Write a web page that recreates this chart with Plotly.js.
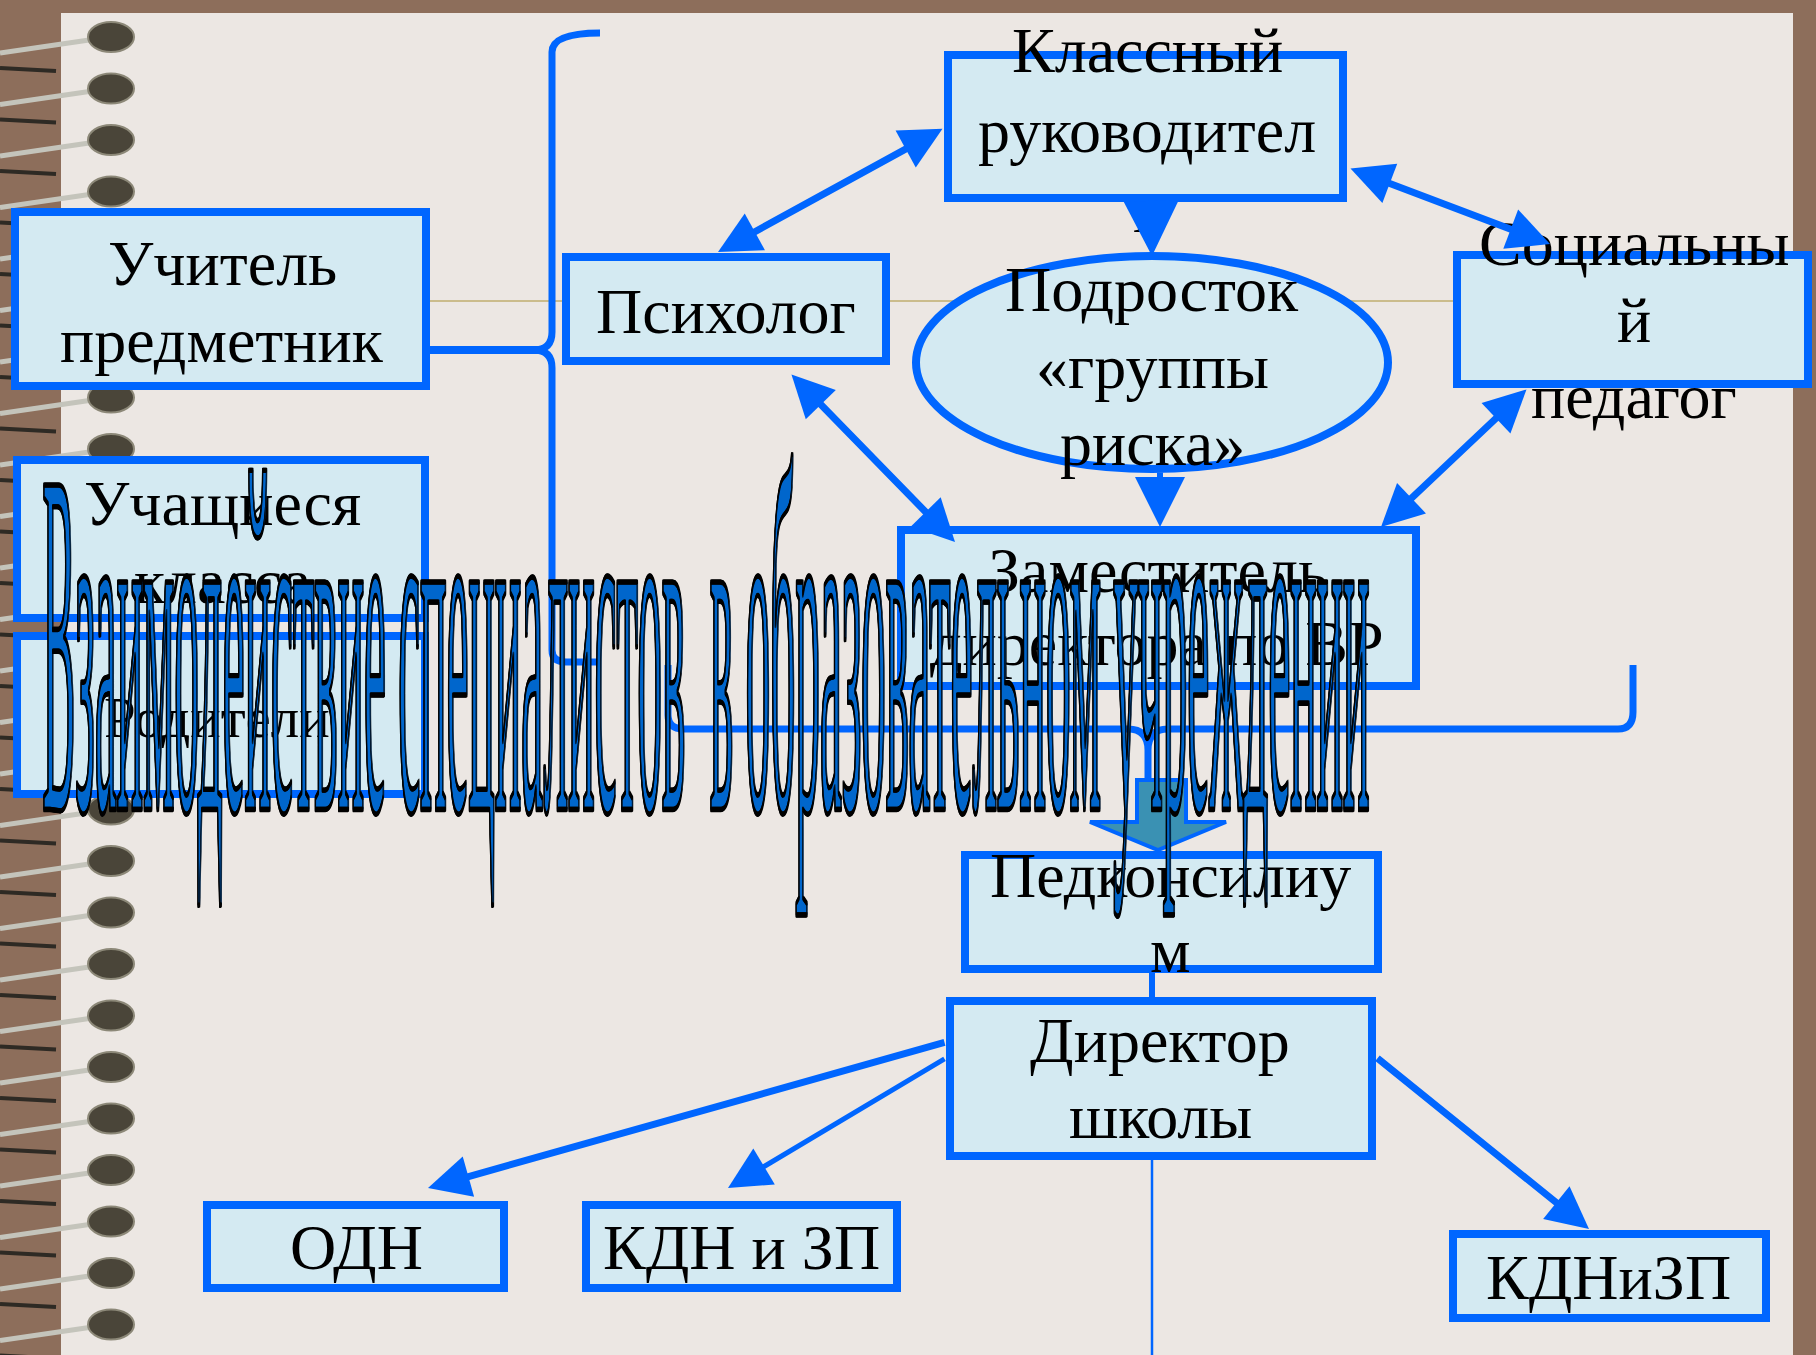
<!DOCTYPE html>
<html><head><meta charset="utf-8">
<script src="https://cdn.plot.ly/plotly-3.0.1.min.js"></script>
<style>html,body{margin:0;padding:0;background:#8d6e5b;overflow:hidden}#chart{width:1816px;height:1355px}</style>
</head><body><div id="chart"></div>
<script>
// ---- diagram content ----
const nodeLines = [
  ['Учитель','предметник'],
  ['Психолог'],
  ['Классный','руководител','ь'],
  ['Подросток','«группы','риска»'],
  ['Социальны','й','педагог'],
  ['Учащиеся','класса'],
  ['Родители'],
  ['Заместитель','директора по ВР'],
  ['Педконсилиу','м'],
  ['Директор','школы'],
  ['ОДН'],
  ['КДН и ЗП'],
  ['КДНиЗП']
];
const nodeKind = ['rect','rect','rect','ellipse','rect','rect','rect','rect','rect','rect','rect','rect','rect'];
const boxX0 = [15, 566, 948, 916, 1457, 17, 17, 901, 965, 950, 207, 586, 1453];
const boxX1 = [426, 886, 1343, 1388, 1808, 425, 425, 1416, 1378, 1372, 504, 897, 1766];
const boxY0 = [212, 257, 55, 256, 255, 460, 636, 530, 855, 1001, 1205, 1205, 1234];
const boxY1 = [386, 361, 198, 469, 384, 618, 794, 686, 969, 1156, 1288, 1288, 1318];
const textX = [222, 726, 1147, 1152, 1634, 222, 217, 1157, 1170, 1160, 356, 741, 1608];
const textBase = [[285,362],[333],[72,152,232],[311,388,465],[265,342,418],[525,603],[737],[592,665],[897,972],[1062,1138],[1269],[1269],[1299]];
const textSize = [64,64,64,64,64,64,57,64,64,64,64,64,64];

// arrows: tail -> head (double where flagged)
const arrowTailX = [944, 1349, 790, 1528, 1151, 1160, 946, 946, 1376];
const arrowTailY = [128, 168, 373, 388, 199, 471, 1042, 1058, 1057];
const arrowHeadX = [718, 1550, 955, 1381, 1152, 1160, 428, 728, 1589];
const arrowHeadY = [252, 244, 542, 527, 256, 527, 1188, 1188, 1229];
const arrowBoth  = [1, 1, 1, 1, 0, 0, 0, 0, 0];
const arrowW     = [7, 7, 7, 7, 6, 6, 7, 5, 7];
const arrowHead  = [8.4, 8.4, 8.4, 8.4, 11, 10, 8.4, 8.4, 8.4];

const titleText = 'Взаимодействие специалистов  в образовательном учреждении';

// ---- styles ----
const BLUE = '#0066FF', FILL = '#D4EAF2', PAPER = '#ECE7E3', BROWN = '#8D6E5B';
const SERIF = 'Liberation Serif, Times New Roman, serif';

const shapes = [];
// notebook paper
shapes.push({type:'rect', xref:'x', yref:'y', x0:61, x1:1793, y0:13, y1:1355, fillcolor:PAPER, line:{width:0}});
// spiral rings (decoration)
for (let c = 37; c < 1355; c += 51.5) {
  shapes.push({type:'line', xref:'x', yref:'y', x0:0, y0:c+31, x1:56, y1:c+34, line:{color:'#2e2a24', width:4}});
  shapes.push({type:'line', xref:'x', yref:'y', x0:0, y0:c+16, x1:96, y1:c+2, line:{color:'#c4c4bb', width:5}});
  shapes.push({type:'circle', xref:'x', yref:'y', x0:88, x1:134, y0:c-15, y1:c+15, fillcolor:'#4a4539', line:{color:'#8c8878', width:2}});
}
// ruled line
shapes.push({type:'line', xref:'x', yref:'y', x0:61, y0:301, x1:1793, y1:301, line:{color:'#CBBC8C', width:2}});
// left brace + connector
shapes.push({type:'path', xref:'x', yref:'y', path:'M 600,33 Q 552,33 552,52 L 552,332 Q 552,350 534,350 Q 552,350 552,368 L 552,650 Q 552,662 566,662 L 600,662', line:{color:BLUE, width:7}});
shapes.push({type:'line', xref:'x', yref:'y', x0:430, y0:350, x1:540, y1:350, line:{color:BLUE, width:8}});
// bottom brace
shapes.push({type:'path', xref:'x', yref:'y', path:'M 668,665 L 668,715 Q 668,729 684,729 L 1128,729 Q 1148,729 1148,750 L 1148,785 M 1148,750 Q 1148,729 1168,729 L 1618,729 Q 1633,729 1633,712 L 1633,665', line:{color:BLUE, width:7}});
// connectors below
shapes.push({type:'line', xref:'x', yref:'y', x0:1152, y0:969, x1:1152, y1:1001, line:{color:BLUE, width:6}});
shapes.push({type:'line', xref:'x', yref:'y', x0:1152, y0:1158, x1:1152, y1:1355, line:{color:BLUE, width:2.5}});
// boxes
for (let i = 0; i < nodeLines.length; i++) {
  shapes.push({type: nodeKind[i] === 'ellipse' ? 'circle' : 'rect', xref:'x', yref:'y',
    x0:boxX0[i], x1:boxX1[i], y0:boxY0[i], y1:boxY1[i], fillcolor:FILL, line:{color:BLUE, width:8}});
}
// block arrow to Педконсилиум
shapes.push({type:'path', xref:'x', yref:'y', path:'M 1137,780 L 1186,780 L 1186,822 L 1226,822 L 1158,850 L 1090,822 L 1137,822 Z', fillcolor:'#3A91B3', line:{color:BLUE, width:4}});

const annotations = [];
for (let i = 0; i < nodeLines.length; i++) {
  nodeLines[i].forEach((ln, j) => {
    const s = textSize[i];
    annotations.push({xref:'x', yref:'y', x:textX[i], y:textBase[i][j] - 0.3375*s, text:ln, showarrow:false,
      xanchor:'center', yanchor:'middle', font:{family:SERIF, size:s, color:'#000'}});
  });
}
for (let k = 0; k < arrowTailX.length; k++) {
  annotations.push({xref:'x', yref:'y', axref:'x', ayref:'y', x:arrowHeadX[k], y:arrowHeadY[k], ax:arrowTailX[k], ay:arrowTailY[k],
    text:'', showarrow:true, arrowhead:2, startarrowhead:2, arrowside: arrowBoth[k] ? 'end+start' : 'end',
    arrowsize: arrowHead[k]/arrowW[k], startarrowsize: arrowHead[k]/arrowW[k], arrowwidth:arrowW[k], arrowcolor:BLUE, standoff:0, startstandoff:0});
}
annotations.push({xref:'x', yref:'y', x:700, y:800, text:titleText, showarrow:false, xanchor:'left', yanchor:'middle',
  font:{family:SERIF, size:50, color:'#0066CC'}});

const layout = {
  width:1816, height:1355, margin:{l:0,r:0,t:0,b:0},
  paper_bgcolor:BROWN, plot_bgcolor:BROWN, showlegend:false,
  xaxis:{range:[0,1816], visible:false, showgrid:false, zeroline:false, fixedrange:true},
  yaxis:{range:[1355,0], visible:false, showgrid:false, zeroline:false, fixedrange:true},
  shapes:shapes, annotations:annotations
};
const gd = document.getElementById('chart');
Plotly.newPlot(gd, [{x:[], y:[], type:'scatter', mode:'markers', hoverinfo:'skip'}], layout, {staticPlot:true, displayModeBar:false}).then(function(){
  const anns = gd.querySelectorAll('g.annotation');
  const t = anns[anns.length-1].querySelector('text.annotation-text');
  if (!t) return;
  const els = [t].concat(Array.from(t.querySelectorAll('tspan')));
  els.forEach(function(e){
    e.setAttribute('vector-effect', 'non-scaling-stroke');
    e.style.stroke = '#000';
    e.style.strokeWidth = '3.5px';
    e.style.strokeLinejoin = 'round';
  });
  t.style.textShadow = '-6px 0 0 #000, -6px 0.3px 0 #000';
  const bb = t.getBBox();
  const ctm = t.getScreenCTM();
  const baseLocal = bb.y + bb.height * (0.891/(0.891+0.216));
  const sx = 1327 / bb.width;
  const ky = 328 / (0.662*50);
  const tx = 43 - ctm.e, ty = 810 - ctm.f;
  t.setAttribute('transform', 'translate(' + tx + ',' + ty + ') scale(' + sx + ',' + ky + ') translate(' + (-bb.x) + ',' + (-baseLocal) + ')');
});
</script></body></html>
